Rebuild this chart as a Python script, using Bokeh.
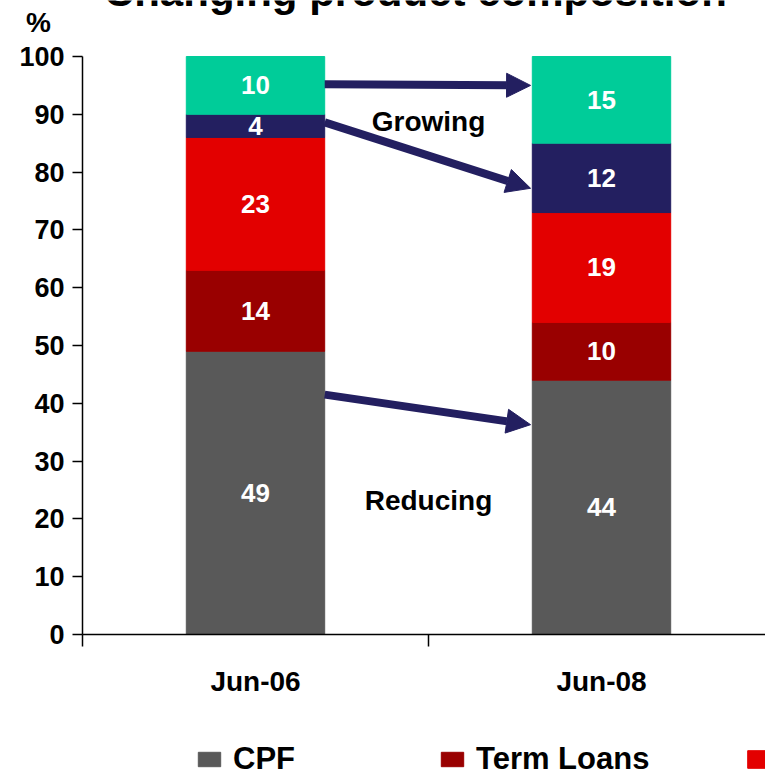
from bokeh.plotting import figure
from bokeh.models import (Range1d, FixedTicker, ColumnDataSource, Label, Arrow,
                          NormalHead, Legend, LegendItem)
from bokeh.core.properties import value
from bokeh.embed import file_html
from bokeh.resources import INLINE

# ---- data -------------------------------------------------------------
periods = ["Jun-06", "Jun-08"]
cpf = [49, 44]
term_loans = [14, 10]
product_3 = [23, 19]
product_4 = [4, 12]
product_5 = [10, 15]

series_keys = ["cpf", "term_loans", "product_3", "product_4", "product_5"]
series_values = [cpf, term_loans, product_3, product_4, product_5]
series_colors = ["#595959", "#990000", "#E30000", "#231F60", "#00CC99"]
legend_labels = ["CPF", "Term Loans", " "]

# arrows from the first bar to the second (percent levels)
arrow_from = [95.2, 88.6, 41.5]
arrow_to = [95.0, 77.2, 36.3]
notes = ["Growing", "Reducing"]
note_levels = [88.8, 23.2]

# ---- geometry ---------------------------------------------------------
W, H = 765, 779
LEFT, BOTTOM, TOP = 82, 634, 56          # pixel positions of the value axes
UNIT_X = 346                              # pixels per category slot
UNIT_Y = (BOTTOM - TOP) / 100             # pixels per percent

FONT = "Liberation Sans"
NAVY = "#231F60"
BAR_X = [0.5, 1.5]
BAR_W = 0.4

# the frame fills the whole canvas; axes are pinned at x=0 / y=0 inside it
p = figure(width=W, height=H, output_backend="svg", toolbar_location=None,
           x_range=Range1d(-LEFT / UNIT_X, (W - LEFT) / UNIT_X),
           y_range=Range1d((BOTTOM - H) / UNIT_Y, BOTTOM / UNIT_Y),
           min_border_left=0, min_border_right=0,
           min_border_top=0, min_border_bottom=0)
p.outline_line_color = None
p.xgrid.visible = False
p.ygrid.visible = False
p.background_fill_color = "white"
p.border_fill_color = "white"

src = ColumnDataSource(dict(x=BAR_X, **{k: v for k, v in zip(series_keys, series_values)}))
renderers = p.vbar_stack(series_keys, x="x", width=BAR_W, color=series_colors, source=src)

# value labels in the middle of each segment
lx, ly, lt = [], [], []
for i, xpos in enumerate(BAR_X):
    base = 0
    for vals in series_values:
        v = vals[i]
        lx.append(xpos)
        ly.append(base + v / 2)
        lt.append(str(v))
        base += v
p.text(x=lx, y=ly, text=lt, text_color="white", text_font=value(FONT),
       text_font_style="bold", text_font_size="26px",
       text_align="center", text_baseline="middle")

# axes
xa = p.xaxis[0]
xa.fixed_location = 0
xa.bounds = (0, 2)
xa.ticker = FixedTicker(ticks=BAR_X, minor_ticks=[0, 1, 2])
xa.major_label_overrides = {BAR_X[i]: periods[i] for i in range(len(periods))}
xa.major_tick_line_color = None
xa.major_tick_out = 0
xa.major_tick_in = 0
xa.minor_tick_line_color = "black"
xa.minor_tick_line_width = 1.5
xa.minor_tick_out = 12
xa.minor_tick_in = 0
xa.axis_line_width = 1.5
xa.major_label_standoff = 19
xa.major_label_text_font = FONT
xa.major_label_text_font_style = "bold"
xa.major_label_text_font_size = "28px"
xa.major_label_text_color = "black"

ya = p.yaxis[0]
ya.fixed_location = 0
ya.bounds = (0, 100)
ya.ticker = FixedTicker(ticks=list(range(0, 101, 10)))
ya.minor_tick_line_color = None
ya.major_tick_out = 10
ya.major_tick_in = 0
ya.major_tick_line_width = 1.5
ya.axis_line_width = 1.5
ya.major_label_standoff = 8
ya.major_label_text_font = FONT
ya.major_label_text_font_style = "bold"
ya.major_label_text_font_size = "27px"
ya.major_label_text_color = "black"

# arrows
for y0, y1 in zip(arrow_from, arrow_to):
    p.add_layout(Arrow(x_start=BAR_X[0] + BAR_W / 2, y_start=y0,
                       x_end=BAR_X[1] - BAR_W / 2 - 0.005, y_end=y1,
                       line_color=NAVY, line_width=8,
                       end=NormalHead(size=24, fill_color=NAVY, line_color=NAVY)))

for txt, lvl in zip(notes, note_levels):
    p.add_layout(Label(x=1.0, y=lvl, text=txt, text_font=FONT, text_color="black",
                       text_font_style="bold", text_font_size="28px",
                       text_align="center", text_baseline="middle"))

# heading (partly above the top edge) and unit
p.add_layout(Label(x=0.962, y=(BOTTOM + 9) / UNIT_Y, text="Changing product composition",
                   text_font=FONT, text_color="black", text_font_style="bold",
                   text_font_size="42px", text_align="center", text_baseline="alphabetic"))
p.add_layout(Label(x=-0.127, y=(BOTTOM - 22) / UNIT_Y, text="%", text_font=FONT,
                   text_color="black", text_font_style="bold", text_font_size="28px",
                   text_align="center", text_baseline="alphabetic"))

# legend row under the axis (screen offsets from the bottom-left corner)
legend_specs = [  # (x, y, glyph width, glyph height)
    (195, 2, 28, 18),
    (438, 2, 28, 18),
    (744, 9, 32, 22),
]
for r, lab, (lx0, ly0, gw, gh) in zip(renderers, legend_labels, legend_specs):
    lg = Legend(items=[LegendItem(label=lab, renderers=[r])], location=(lx0, ly0),
                orientation="horizontal", padding=0, margin=0, spacing=0,
                border_line_color=None, background_fill_alpha=0,
                glyph_width=gw, glyph_height=gh, label_standoff=10,
                label_text_font=FONT, label_text_font_style="bold",
                label_text_font_size="31px", label_text_color="black")
    p.add_layout(lg, "center")

open("out.html", "w").write(file_html(p, INLINE))
